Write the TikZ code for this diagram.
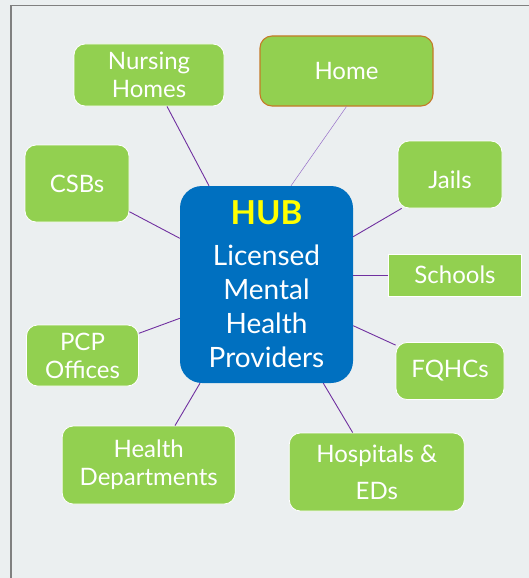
\documentclass[tikz,border=0pt]{standalone}
\usepackage{fontspec}
\setmainfont{Lato}
\usetikzlibrary{calc}
\definecolor{bg}{RGB}{235,239,240}
\definecolor{leaf}{RGB}{146,208,80}
\definecolor{hubblue}{RGB}{0,112,192}
\definecolor{linkc}{RGB}{112,48,160}
\definecolor{homelink}{RGB}{150,110,200}
\definecolor{homeedge}{RGB}{196,122,40}
\definecolor{framec}{RGB}{128,128,128}
\definecolor{hubyellow}{RGB}{255,255,0}
\begin{document}
\begin{tikzpicture}[x=1pt,y=-1pt,
  leafbox/.style={draw=white, line width=0.8pt, fill=leaf, rounded corners=11pt,
    text=white, align=center, inner sep=0pt, font=\fontsize{24}{28}\selectfont},
  hubbox/.style={fill=hubblue, rounded corners=22pt, text=white, align=center,
    inner sep=0pt, font=\fontsize{28}{34}\selectfont},
  linkline/.style={draw=linkc, line width=0.9pt},
  homeline/.style={draw=homelink, line width=0.5pt}]
\fill[bg] (0,0) rectangle (529,578);
\useasboundingbox (0,0) rectangle (529,578);
\draw[framec, line width=1.5pt] (11,578) -- (11,5.5) -- (529,5.5);

% hub
\node[hubbox, minimum width=173pt, minimum height=197pt] (hub) at (266.5,284.5)
  {{\fontsize{33}{36}\selectfont\bfseries\color{hubyellow}HUB}\\[7pt]Licensed\\Mental\\Health\\Providers};

% leaves
\node[leafbox, minimum width=150pt, minimum height=62pt] (nh) at (149,75) {Nursing\\Homes};
\node[leafbox, draw=homeedge, line width=1.1pt, rounded corners=12pt, minimum width=173pt, minimum height=70pt] (home) at (346.5,71) {Home};
\node[leafbox, minimum width=104pt, minimum height=77pt] (csb) at (77,183.5) {CSBs};
\node[leafbox, minimum width=104pt, minimum height=67pt] (jails) at (450,174.5) {\raisebox{-14pt}[0pt][0pt]{Jails}};
\node[leafbox, rounded corners=0pt, minimum width=133pt, minimum height=42pt] (schools) at (455,275) {Schools};
\node[leafbox, minimum width=112pt, minimum height=61pt] (pcp) at (82.5,355.5) {PCP\\Offices};
\node[leafbox, minimum width=108pt, minimum height=57pt] (fq) at (450,371) {FQHCs};
\node[leafbox, minimum width=173pt, minimum height=78pt] (hd) at (148.7,465) {Health\\Departments};
\node[leafbox, minimum width=175pt, minimum height=78pt] (hosp) at (376.8,472) {Hospitals \&\\[9pt]EDs};

% connectors
\draw[linkline] ([xshift=18pt]nh.south) -- ([xshift=-57.5pt]hub.north);
\draw[homeline] (home.south) -- ([xshift=24.5pt]hub.north);
\draw[linkline] ([yshift=-28.2pt]csb.east) -- ([yshift=46.2pt]hub.west);
\draw[linkline] ([xshift=4pt]jails.south west) -- ([yshift=47.8pt]hub.east);
\draw[linkline] (schools.west) -- ([yshift=9.5pt]hub.east);
\draw[linkline] ([yshift=-3pt]fq.north west) -- ([yshift=-41.2pt]hub.east);
\draw[linkline] ([yshift=22.2pt]pcp.east) -- ([yshift=-33.8pt]hub.west);
\draw[linkline] ([xshift=26.3pt]hd.north) -- ([xshift=-66.5pt]hub.south);
\draw[linkline] ([xshift=-24.1pt]hosp.north) -- ([xshift=56.8pt]hub.south);
\end{tikzpicture}
\end{document}
